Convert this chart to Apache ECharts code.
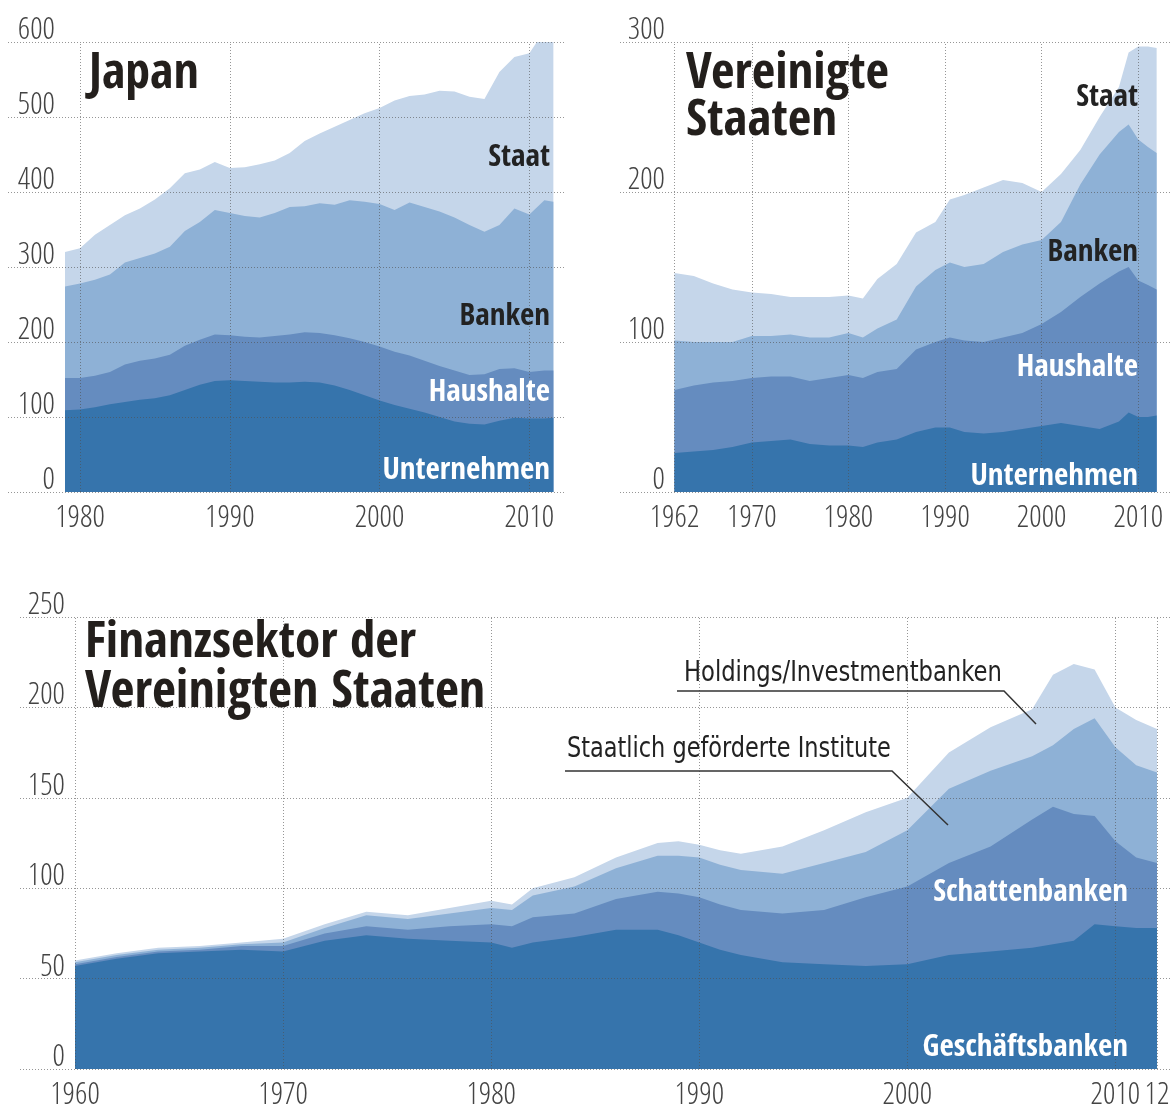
<!DOCTYPE html>
<html><head><meta charset="utf-8">
<script src="https://cdn.jsdelivr.net/npm/echarts@6/dist/echarts.min.js"></script>
<style>html,body{margin:0;padding:0;background:#fff}#c{width:1172px;height:1108px}</style>
</head><body><div id="c"></div>
<script>
// ---------- Japan ----------
const jpYears = [1979,1980,1981,1982,1983,1984,1985,1986,1987,1988,1989,1990,1991,1992,1993,1994,1995,1996,1997,1998,1999,2000,2001,2002,2003,2004,2005,2006,2007,2008,2009,2010,2011,2011.6];
const jpUnternehmen = [109,110,113,117,120,123,125,129,136,143,148,149,148,147,146,146,147,146,142,136,129,122,116,111,106,100,94,91,90,95,99,98,98,99];
const jpHaushalte   = [43,42,42,43,50,52,53,54,59,60,62,60,59,59,62,64,66,66,67,69,71,72,71,71,69,68,68,65,67,69,66,62,64,63];
const jpBanken      = [122,126,128,130,136,137,140,144,153,157,166,163,161,160,164,170,168,173,174,184,187,190,189,204,205,206,204,200,190,192,213,210,227,225];
const jpStaat       = [46,47,60,66,63,66,72,78,77,70,64,60,65,71,70,72,87,93,104,107,118,128,146,142,150,161,168,171,177,204,202,215,226,225];
const jpXTicks = [1980,1990,2000,2010];
const jpYTicks = [0,100,200,300,400,500,600];

// ---------- Vereinigte Staaten ----------
const usYears = [1962,1964,1966,1968,1970,1972,1974,1976,1978,1980,1981.5,1983,1985,1987,1989,1990.5,1992,1994,1996,1998,2000,2002,2004,2006,2008,2009,2010,2011,2011.9];
const usUnternehmen = [26,27,28,30,33,34,35,32,31,31,30,33,35,40,43,43,40,39,40,42,44,46,44,42,47,53,50,50,51];
const usHaushalte   = [42,44,45,44,43,43,42,42,45,47,46,47,47,55,57,60,61,61,63,64,68,74,86,97,100,97,91,88,84];
const usBanken      = [33,29,27,26,28,27,28,29,27,28,27,29,33,42,48,50,49,52,57,59,56,60,75,86,93,95,94,92,91];
const usStaat       = [45,44,39,35,29,28,25,27,27,25,26,33,37,36,32,42,48,51,48,41,32,32,23,25,30,48,62,67,70];
const usXTicks = [1962,1970,1980,1990,2000,2010];
const usYTicks = [0,100,200,300];

// ---------- Finanzsektor ----------
const finYears = [1960,1962,1964,1966,1968,1970,1972,1974,1976,1978,1980,1981,1982,1984,1986,1988,1989,1990,1991,1992,1994,1996,1998,2000,2002,2004,2006,2007,2008,2009,2010,2011,2012];
const finGeschaeft = [57,61,64,65,66,65,71,74,72,71,70,67,70,73,77,77,74,70,66,63,59,58,57,58,63,65,67,69,71,80,79,78,78];
const finSchatten  = [1,1,1,1,2,3,4,5,5,8,10,12,14,13,17,21,23,25,25,25,27,30,38,43,51,58,71,76,70,60,47,39,36];
const finStaatlich = [1,1,1,1,1,2,3,6,6,7,9,9,12,15,17,20,21,22,22,22,22,26,25,31,41,42,35,34,47,54,52,51,50];
const finHoldings  = [1,1,1,1,1,2,2,2,2,3,4,3,4,5,6,7,8,7,8,9,15,18,22,18,20,24,26,39,36,27,22,25,24];
const finXTicks = [1960,1970,1980,1990,2000,2010,2012];
const finYTicks = [0,50,100,150,200,250];

// ---------- styling ----------
const FONT_B = '"Open Sans Condensed", "Liberation Sans Narrow", "DejaVu Sans Condensed", sans-serif';
const FONT_L = '"Open Sans Condensed Light", "Liberation Sans Narrow", "DejaVu Sans Condensed", sans-serif';
const FONT_R = '"Liberation Sans Narrow", "DejaVu Sans Condensed", sans-serif';
const C1 = '#3674ac', C2 = '#658cbf', C3 = '#8eb1d6', C4 = '#c5d6ea';
const GRIDC = 'rgba(80,80,80,0.6)';
const TICKC = '#444';

// stack layers (bottom to top) into running totals so every layer is an area down to zero
function stackLayers(layers){
  const out = []; let acc = layers[0].map(()=>0);
  layers.forEach(l => { acc = acc.map((a,i)=>a + l[i]); out.push(acc); });
  return out;
}
function area(name, xs, vs, color, gi, gridMarks){
  const s = {
    type:'line', name, xAxisIndex:gi, yAxisIndex:gi,
    data: xs.map((x,i)=>[x, vs[i]]), showSymbol:false, symbol:'none', silent:true,
    lineStyle:{width:0}, areaStyle:{color, opacity:1}, itemStyle:{color},
    emphasis:{disabled:true}
  };
  if (gridMarks) {
    s.markLine = {
      silent:true, symbol:['none','none'], animation:false,
      label:{show:false}, emphasis:{disabled:true},
      lineStyle:{type:[1,2], color:GRIDC, width:1},
      data: gridMarks.x.map(v=>({xAxis:v})).concat(gridMarks.y.map(v=>({yAxis:v})))
    };
  }
  return s;
}
function chartSeries(gi, xs, layers, names, marks){
  const tops = stackLayers(layers);
  const cols = [C1, C2, C3, C4];
  const res = [];
  for (let k = tops.length - 1; k >= 0; k--) {
    res.push(area(names[k], xs, tops[k], cols[k], gi, k === 0 ? marks : null));
  }
  return res;
}
function xAx(gi, min, max, ticks, fmt){
  return {gridIndex:gi, type:'value', min, max,
    axisLine:{show:false}, axisTick:{show:false}, splitLine:{show:false},
    axisLabel:{customValues:ticks, margin:11, fontSize:31, fontWeight:'normal', color:TICKC, fontFamily:FONT_L,
      formatter: fmt || (v=>String(v))}};
}
function yAx(gi, max, interval, margin){
  return {gridIndex:gi, type:'value', min:0, max, interval,
    axisLine:{show:false}, axisTick:{show:false}, splitLine:{show:false},
    axisLabel:{inside:true, align:'right', verticalAlign:'bottom', lineHeight:22, margin,
      fontSize:31, fontWeight:'normal', color:TICKC, fontFamily:FONT_L}};
}
function txt(text, x, y, size, color, align, opts){
  opts = opts || {};
  return {type:'text', silent:true, z:100, x, y, scaleX: opts.sx || 1,
    style:{text, x:0, y:0, fill:color, align:align||'left', verticalAlign:'middle',
    fontSize:size, fontWeight:opts.weight||'bold', fontFamily:opts.font||FONT_B}};
}

const option = {
  animation:false,
  backgroundColor:'#fff',
  grid:[
    {left:8, top:42, width:557, height:450, outerBoundsMode:'none'},
    {left:620, top:42, width:552, height:450, outerBoundsMode:'none'},
    {left:20, top:617, width:1152, height:452, outerBoundsMode:'none'}
  ],
  xAxis:[
    xAx(0, 1975.194, 2012.377, jpXTicks),
    xAx(1, 1956.36, 2013.49, usXTicks),
    xAx(2, 1957.356, 2012.72, finXTicks, v => v===2012 ? '12' : String(v))
  ],
  yAxis:[
    yAx(0, 600, 100, 47),
    yAx(1, 300, 100, 45),
    yAx(2, 250, 50, 45)
  ],
  series: [].concat(
    chartSeries(0, jpYears, [jpUnternehmen, jpHaushalte, jpBanken, jpStaat],
      ['Unternehmen','Haushalte','Banken','Staat'], {x:jpXTicks, y:jpYTicks}),
    chartSeries(1, usYears, [usUnternehmen, usHaushalte, usBanken, usStaat],
      ['Unternehmen','Haushalte','Banken','Staat'], {x:usXTicks, y:usYTicks}),
    chartSeries(2, finYears, [finGeschaeft, finSchatten, finStaatlich, finHoldings],
      ['Geschäftsbanken','Schattenbanken','Staatlich geförderte Institute','Holdings/Investmentbanken'], {x:finXTicks, y:finYTicks})
  ),
  graphic:[
    txt('Japan', 89, 75, 50, '#231f1c'),
    txt('Staat', 550, 158, 31, '#222', 'right'),
    txt('Banken', 550, 317, 31, '#222', 'right'),
    txt('Haushalte', 550, 393, 31, '#fff', 'right'),
    txt('Unternehmen', 550, 471, 31, '#fff', 'right'),

    txt('Vereinigte', 686, 75, 51, '#231f1c'),
    txt('Staaten', 686, 122, 51, '#231f1c'),
    txt('Staat', 1138, 98, 31, '#222', 'right'),
    txt('Banken', 1138, 253, 31, '#222', 'right'),
    txt('Haushalte', 1138, 368, 31, '#fff', 'right'),
    txt('Unternehmen', 1138, 477, 31, '#fff', 'right'),

    txt('Finanzsektor der', 85, 644, 51, '#231f1c'),
    txt('Vereinigten Staaten', 85, 693, 52, '#231f1c'),
    txt('Holdings/Investmentbanken', 684, 674, 28, '#222', 'left', {weight:'normal', font:FONT_R, sx:0.9}),
    txt('Staatlich geförderte Institute', 567, 750, 28, '#222', 'left', {weight:'normal', font:FONT_R, sx:0.89}),
    txt('Schattenbanken', 1128, 893, 31, '#fff', 'right'),
    txt('Geschäftsbanken', 1128, 1048, 31, '#fff', 'right'),
    {type:'polyline', silent:true, z:100, shape:{points:[[677,691],[1004,691],[1036,724]]}, style:{stroke:'#333', lineWidth:1.5, fill:null}},
    {type:'polyline', silent:true, z:100, shape:{points:[[565,771],[892,771],[948,825]]}, style:{stroke:'#333', lineWidth:1.5, fill:null}}
  ]
};
const chart = echarts.init(document.getElementById('c'), null, {renderer:'canvas'});
chart.setOption(option);
</script>
</body></html>
